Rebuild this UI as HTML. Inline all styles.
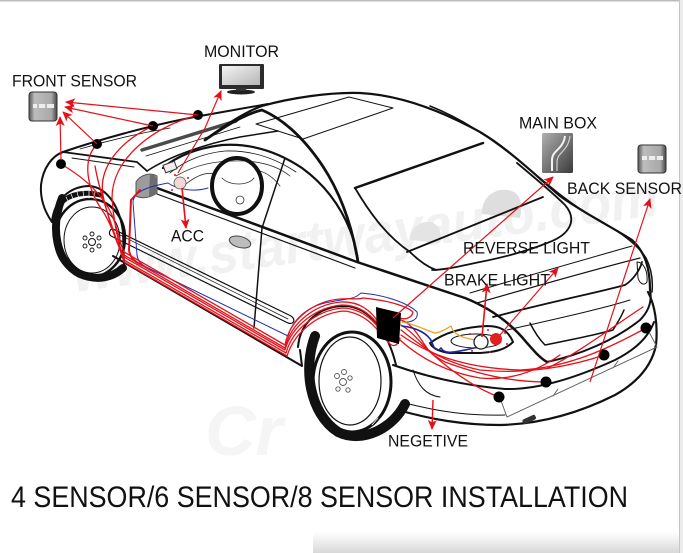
<!DOCTYPE html>
<html><head><meta charset="utf-8">
<style>
html,body{margin:0;padding:0;background:#fff;}
svg{display:block}
text{font-family:"Liberation Sans",Arial,sans-serif;fill:#111}
</style></head><body>
<svg width="683" height="553" viewBox="0 0 683 553" xmlns="http://www.w3.org/2000/svg">
<defs>
<marker id="a" markerUnits="userSpaceOnUse" markerWidth="10" markerHeight="10" viewBox="0 0 10 10" refX="9" refY="5" orient="auto"><path d="M0,0.5 L10,5 L0,9.5 L2.5,5 Z" fill="#e3121a"/></marker>
<linearGradient id="mbg" x1="0" y1="0" x2="1" y2="1"><stop offset="0" stop-color="#b0b0b0"/><stop offset="1" stop-color="#3a3a3a"/></linearGradient>
<linearGradient id="scr" x1="0" y1="0" x2="1" y2="1"><stop offset="0" stop-color="#f4f4f4"/><stop offset="1" stop-color="#b5b5b5"/></linearGradient>
<linearGradient id="sen" x1="0" y1="0" x2="1" y2="0"><stop offset="0" stop-color="#555"/><stop offset="0.2" stop-color="#bdbdbd"/><stop offset="0.8" stop-color="#a8a8a8"/><stop offset="1" stop-color="#444"/></linearGradient>
<linearGradient id="bot" x1="0" y1="0" x2="0" y2="1"><stop offset="0" stop-color="#fff"/><stop offset="1" stop-color="#d8d8d8"/></linearGradient>
</defs>
<rect width="683" height="553" fill="#fff"/>
<rect x="313" y="532" width="370" height="21" fill="url(#bot)"/>
<rect x="0" y="0" width="683" height="1.5" fill="#bdbdbd"/>
<rect x="679" y="0" width="4" height="553" fill="#ececec"/>
<rect x="679" y="0" width="1" height="553" fill="#c6c6c6"/>

<!-- watermark -->
<text x="75" y="292" font-size="56" font-style="italic" font-weight="bold" textLength="590" lengthAdjust="spacingAndGlyphs" style="fill:#f1f1f1" transform="rotate(-7.5 75 292)">www.startwayauto.com</text>
<text x="205" y="455" font-size="70" font-style="italic" font-weight="bold" style="fill:#f5f5f5">Cr</text>

<!-- headrests -->
<path d="M482,214 C481,198 494,188 508,190 C521,192 523,205 520,218 Z" fill="#dedede"/>
<path d="M410,240 C410,228 420,221 430,222 C440,224 442,233 440,243 Z" fill="#e4e4e4"/>

<g fill="none" stroke="#111" stroke-linecap="round" stroke-linejoin="round">
<!-- front wheel -->
<ellipse cx="90" cy="238" rx="35" ry="39" stroke-width="2.5"/>
<path d="M62,198 C50,228 56,262 80,274 C96,281 112,278 123,268" stroke-width="8"/>
<path d="M62,202 C70,194 86,191 100,195" stroke-width="5"/>
<g stroke="#fff" stroke-width="0.7"><path d="M66,197 L69,203 M71,194 L74,201 M77,192 L79,199 M83,191 L84,198 M89,191 L89,198 M95,192 L94,199"/></g>
<ellipse cx="92" cy="240" rx="28" ry="33" fill="#fff" stroke-width="1"/>
<path d="M52,222 C54,200 70,186 90,186 C108,188 120,208 123,232 L124,265" stroke-width="2"/>
<circle cx="92" cy="242" r="3.5" stroke-width="1"/>
<g stroke-width="0.9"><circle cx="92" cy="234" r="2"/><circle cx="99" cy="238" r="2"/><circle cx="99" cy="246" r="2"/><circle cx="92" cy="250" r="2"/><circle cx="85" cy="246" r="2"/><circle cx="85" cy="238" r="2"/></g>

<!-- rear wheel -->
<ellipse cx="352" cy="382" rx="39" ry="50" stroke-width="3"/>
<path d="M315,336 C303,368 309,413 338,432 C363,444 393,428 405,404" stroke-width="10"/>
<ellipse cx="350" cy="381" rx="31" ry="44" fill="#fff" stroke-width="1.2"/>
<g stroke="#fff" stroke-width="0.8"><path d="M372,425 L378,418 M377,423 L383,416 M382,421 L388,413 M387,418 L392,410 M391,414 L396,406"/></g>
<path d="M298,347 C300,322 320,306 345,306 C370,307 388,332 396,365" stroke-width="2"/>
<g stroke="#555" stroke-width="0.9"><circle cx="343" cy="382" r="3.5"/><circle cx="337" cy="376" r="2.5"/><circle cx="344" cy="372" r="2.5"/><circle cx="350" cy="378" r="2.2"/><circle cx="348" cy="390" r="2.2"/><circle cx="338" cy="389" r="2.2"/></g>

<!-- front body -->
<path d="M63,152 C52,156 43,168 41,185 C40,200 45,212 52,222" stroke-width="2"/>
<path d="M63,152 C95,141 150,125 200,116 C228,111 250,107 268,104" stroke-width="2"/>
<path d="M63,152 L137,162 L147,171" stroke-width="1.8"/>
<path d="M72,158 L134,167" stroke-width="0.9"/>
<path d="M80,149 C110,140 140,133 170,128" stroke-width="0.8"/>
<path d="M147,171 C170,156 205,144 240,137 L278,131" stroke-width="1.5"/>
<path d="M142,150 L236,121" stroke="#4a4a4a" stroke-width="3.5"/>
<path d="M146,156 L240,127" stroke-width="0.8"/>

<!-- roof / pillars -->
<path d="M205,140 C225,125 245,112 262,106 C290,98 330,92 360,93 C400,95 440,110 480,132 C510,150 535,175 560,196 C585,214 612,227 632,240 C645,252 650,268 650,290" stroke-width="2.2"/>
<path d="M430,106 C460,118 490,137 518,160 C545,182 568,203 592,216 C615,229 636,242 646,258 C652,270 653,282 652,292" stroke-width="1.5"/>
<path d="M205,140 C225,126 245,114 262,110 C285,120 305,140 322,165 C340,192 352,225 358,262" stroke-width="2.8"/>
<path d="M256,124 L303,139 L393,108 L349,97 Z" stroke-width="1"/>

<!-- side window -->
<path d="M163,168 C178,155 198,148 222,145 C252,143 278,152 302,168 C324,184 340,205 350,230 C355,243 357,252 358,262" stroke-width="2.2"/>
<path d="M170,173 C185,160 205,153 225,151 C252,150 275,158 296,172" stroke-width="0.8"/>
<path d="M285,158 L262,228 L254,328" stroke-width="1.5"/>
<!-- interior -->
<g stroke-width="0.8" stroke="#333">
<path d="M176,176 C195,165 215,160 245,161 C265,162 280,168 290,176"/>
<path d="M186,184 C196,176 206,172 214,174"/>
<path d="M256,170 C266,172 274,178 280,186"/>
<circle cx="240" cy="200" r="4"/>
<path d="M222,178 C230,186 248,186 254,178"/>
</g>
<ellipse cx="237" cy="186" rx="25" ry="28" stroke-width="4"/>

<!-- belt & side -->
<path d="M157,188 L357,262 L465,298 C490,308 510,322 527,343 C535,352 540,358 547,362" stroke-width="2.5"/>
<path d="M157,194 L355,268" stroke-width="1.2"/>
<path d="M113,229 L291,316 C296,319 294,325 288,323 L111,236 C108,234 110,228 113,229 Z" stroke-width="1.2"/>
<path d="M116,233 L288,319" stroke-width="0.7"/>
<path d="M113,256 L302,366 L300,350" stroke-width="2"/>
<ellipse cx="240" cy="242" rx="11" ry="5.5" fill="#bdbdbd" stroke="#444" stroke-width="1" transform="rotate(15 240 242)"/>

<!-- rear window / trunk -->
<path d="M355,188 L483,143" stroke-width="2.5"/>
<path d="M355,188 C368,210 385,235 410,252 C420,262 428,267 436,270" stroke-width="1.8"/>
<path d="M517,163 C535,178 552,192 565,205 C578,220 570,235 547,243 C530,250 510,256 480,262 C460,266 445,270 432,270" stroke-width="1.8"/>
<path d="M407,252 L543,197" stroke-width="1.8"/>
<path d="M470,293 C530,275 590,258 632,246" stroke-width="1"/>
<path d="M477,303 C540,285 600,268 640,258" stroke-width="1.2"/>
<path d="M493,317 C550,302 600,292 625,285 C633,280 640,270 642,262" stroke-width="1.8"/>
<path d="M507,330 C560,318 605,308 630,300" stroke-width="1"/>
<path d="M547,362 C580,355 615,340 640,320 C650,310 652,300 650,290" stroke-width="2"/>
<path d="M530,323 C535,333 540,340 545,345 C570,340 595,335 613,330 C618,322 622,315 624,310" stroke-width="1.5"/>
<path d="M637,262 C643,262 648,270 647,282 C644,286 640,284 638,278 Z" stroke-width="1"/>

<!-- tail light -->
<path d="M430,343 C445,332 465,327 487,326 C500,326 508,330 513,342 C505,350 495,352 480,353 L450,353 C440,352 432,348 430,343 Z" stroke-width="2"/>
<ellipse cx="476" cy="341" rx="25" ry="7" stroke-width="1"/>

<!-- bumper -->
<path d="M393,365 C430,378 470,386 505,389 C540,390 580,376 615,360 C635,350 648,338 654,322" stroke-width="2"/>
<path d="M398,410 C430,419 462,425 500,425 C545,424 585,410 615,395 C638,382 652,365 656,345 C658,325 655,305 648,292" stroke-width="2.2"/>
<path d="M405,403 C440,412 470,416 505,415" stroke-width="1"/>
<path d="M500,398 L507,417 L657,347 L648,330 M553,396 L558,389 M613,368 L618,361" stroke="#666" stroke-width="1"/>
</g>
<rect x="522" y="417" width="14" height="5" rx="2" fill="#333" transform="rotate(-25 529 419)"/>

<!-- mirror / misc -->
<path d="M136,182 C140,175 150,172 157,176 L157,193 C150,198 142,199 136,196 Z" fill="#9c9c9c" stroke="#555" stroke-width="1"/>
<path d="M150,174 C155,174 157,178 157,184 L157,193 C154,195 151,196 149,196 Z" fill="#6e6e6e"/>
<rect x="164" y="163" width="12" height="8" fill="#eee" stroke="#333" stroke-width="1" transform="rotate(-20 170 167)"/>

<!-- wires -->
<g fill="none" stroke-linecap="round" stroke-linejoin="round">
<path d="M168,183 C152,186 134,190 133,202 L137,255 C138,262 142,265 148,268 L288,336 C292,322 305,306 330,302 C345,299 352,299 357,296 L361,293 C385,295 408,303 417,312 C419,320 410,323 402,322" stroke="#2233aa" stroke-width="1"/>
<path d="M168,183 C178,190 195,192 208,188" stroke="#2233aa" stroke-width="1"/>
<g stroke="#e3121a" stroke-width="1.3">
<path d="M61,164 C85,178 103,195 112,215 C119,232 121,248 124,252 L285,345 C290,318 315,301 340,299 C352,298 358,300 363,298 C385,300 405,305 413,312 C412,318 405,320 400,318"/>
<path d="M97,144 C82,160 86,188 104,213 C113,228 118,246 124,255 L285,348 C291,322 316,304 341,302 C360,301 372,312 378,322"/>
<path d="M153,126 C118,142 96,170 104,200 C110,224 117,245 124,257 L285,350 C292,325 317,307 342,305 C362,305 374,318 380,328"/>
<path d="M198,115 C150,128 112,160 112,198 C114,228 120,248 124,260 L286,353 C293,328 318,310 343,308 C364,309 376,323 382,333"/>
<path d="M95,166 C100,195 112,225 124,262 L287,356 C295,331 319,313 344,311 C366,313 378,330 388,342 C393,348 398,346 400,338"/>
<path d="M401,320 C415,325 420,340 430,352 C450,370 475,388 499,397"/>
<path d="M401,325 C418,335 425,352 445,362 C480,375 515,382 546,382"/>
<path d="M401,330 C420,345 440,362 480,370 C530,375 575,365 604,355"/>
<path d="M401,335 C425,352 460,368 520,370 C570,368 615,345 646,328"/>
<path d="M400,340 C420,358 445,372 480,378 C520,382 550,362 560,355"/>
<path d="M548,368 C580,352 615,325 643,307"/>
</g>
<path d="M140,190 L131,200 L129,250 C130,258 135,262 142,265" stroke="#e3121a" stroke-width="2"/>
<path d="M402,322 C415,324 425,330 435,333 C442,332 448,328 451,326 C452,330 455,336 470,339 L480,341" stroke="#f0a020" stroke-width="1.3"/>
<path d="M402,326 C418,328 428,334 432,342 C434,350 438,352 441,348 C445,355 455,352 470,349 L478,347" stroke="#1a2a9a" stroke-width="1.6"/>
<path d="M413,370 C418,385 425,395 440,397" stroke="#111" stroke-width="1"/>
</g>

<!-- box -->
<path d="M376,307 L401,313 L399,344 L377,338 Z" fill="#000"/>

<!-- lights -->
<circle cx="481" cy="342" r="7" fill="#fff" stroke="#222" stroke-width="1.3"/>
<circle cx="496" cy="339" r="6" fill="#e41e1e"/>
<g fill="#e3121a"><circle cx="470" cy="334" r="1"/><circle cx="488" cy="330" r="1"/><circle cx="505" cy="333" r="1"/><circle cx="507" cy="344" r="1"/><circle cx="490" cy="352" r="1"/><circle cx="472" cy="351" r="1"/><circle cx="175" cy="175" r="1"/><circle cx="188" cy="178" r="1"/><circle cx="172" cy="190" r="1"/></g>
<circle cx="180" cy="183" r="6" fill="#f3d6d6" stroke="#555" stroke-width="0.8"/>

<!-- dots -->
<g fill="#000">
<circle cx="61" cy="164" r="5"/><circle cx="97" cy="144" r="5"/><circle cx="153" cy="126" r="5"/><circle cx="198" cy="115" r="5"/>
<circle cx="499" cy="397" r="5.5"/><circle cx="546" cy="382" r="5.5"/><circle cx="604" cy="355" r="5.5"/><circle cx="646" cy="328" r="5.5"/>
</g>

<!-- arrows -->
<g fill="none" stroke="#e3121a" stroke-width="1.2" marker-end="url(#a)">
<path d="M61,160 L60,117"/>
<path d="M97,144 L63,112"/>
<path d="M153,126 L65,107"/>
<path d="M198,115 L66,102"/>
<path d="M178,173 L205,128 L221,91"/>
<path d="M182,188 L186,228" stroke-width="1.6"/>
<path d="M393,318 L553,177"/>
<path d="M500,335 L558,268"/>
<path d="M482,337 L487,284" stroke-width="1.6"/>
<path d="M590,382 L650,199"/>
<path d="M433,400 L432,429" stroke-width="1.4"/>
</g>

<!-- icons -->
<rect x="29" y="92" width="28" height="29" rx="3" fill="url(#sen)"/>
<rect x="33" y="104" width="21" height="4" fill="#eee"/>
<path d="M38,104 V108 M46,104 V108" stroke="#666" stroke-width="0.8"/>
<rect x="29" y="92" width="28" height="29" rx="3" fill="none" stroke="#333" stroke-width="1"/>
<rect x="219" y="64" width="45" height="25" rx="1" fill="#2c2c2c"/>
<rect x="222" y="66" width="38" height="19" fill="url(#scr)"/>
<ellipse cx="241" cy="92" rx="14" ry="2.5" fill="#222"/>
<rect x="236" y="88" width="10" height="3" fill="#333"/>
<rect x="542" y="133" width="31" height="40" rx="1.5" fill="url(#mbg)"/>
<path d="M565,136 C563,150 552,150 552,160 L552,171" fill="none" stroke="#f2f2f2" stroke-width="2"/>
<path d="M570,136 C568,152 557,152 557,162 L557,171" fill="none" stroke="#d0d0d0" stroke-width="1.2"/>
<rect x="638" y="145" width="28" height="28" rx="3" fill="url(#sen)"/>
<rect x="642" y="156" width="21" height="4" fill="#eee"/>
<path d="M648,156 V160 M656,156 V160" stroke="#666" stroke-width="0.8"/>
<rect x="638" y="145" width="28" height="28" rx="3" fill="none" stroke="#333" stroke-width="1"/>

<!-- labels -->
<text x="204" y="57" font-size="17" textLength="75" lengthAdjust="spacingAndGlyphs">MONITOR</text>
<text x="12" y="86.5" font-size="17" textLength="125" lengthAdjust="spacingAndGlyphs">FRONT SENSOR</text>
<text x="519" y="128.3" font-size="17" textLength="78" lengthAdjust="spacingAndGlyphs">MAIN BOX</text>
<text x="567" y="194" font-size="17" textLength="115" lengthAdjust="spacingAndGlyphs">BACK SENSOR</text>
<text x="171" y="241.5" font-size="17" textLength="33" lengthAdjust="spacingAndGlyphs">ACC</text>
<text x="463" y="253.3" font-size="17" textLength="127" lengthAdjust="spacingAndGlyphs">REVERSE LIGHT</text>
<text x="444" y="285.3" font-size="17" textLength="106" lengthAdjust="spacingAndGlyphs">BRAKE LIGHT</text>
<text x="388" y="446.5" font-size="17" textLength="80" lengthAdjust="spacingAndGlyphs">NEGETIVE</text>
<text x="11" y="507" font-size="30" textLength="617" lengthAdjust="spacingAndGlyphs">4 SENSOR/6 SENSOR/8 SENSOR INSTALLATION</text>
</svg>
</body></html>
